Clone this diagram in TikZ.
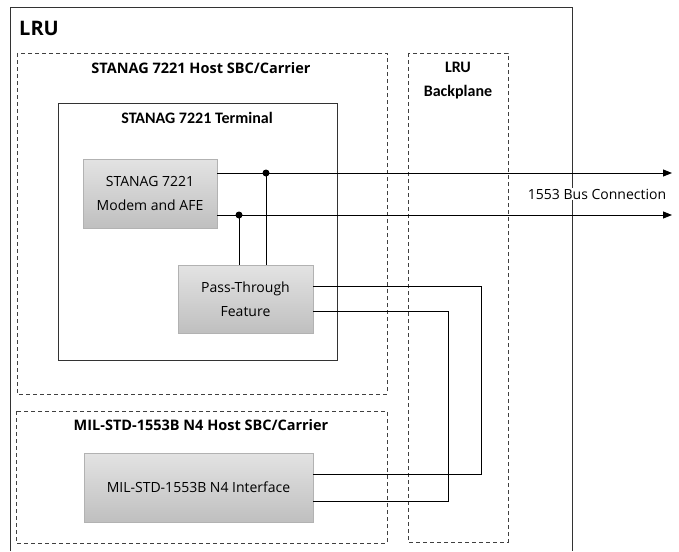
\documentclass[tikz,border=0pt]{standalone}
\usepackage{fontspec}
\setmainfont{Open Sans}
\newfontfamily\calfont{Carlito}
\usetikzlibrary{arrows.meta,calc}
\begin{document}
\begin{tikzpicture}[x=1pt,y=-1pt,
  frame/.style={draw=black!80,line width=0.9pt},
  dbox/.style={draw=black!75,line width=0.8pt,dash pattern=on 4pt off 3pt},
  gbox/.style={draw=gray!60,line width=0.8pt,top color=gray!22,bottom color=gray!50,
     inner sep=0pt,outer sep=0pt,align=center,font=\fontsize{14}{24}\selectfont},
  wire/.style={draw=black,line width=0.9pt},
  bus/.style={wire,-{Triangle[length=9pt,width=7pt]}},
  dot/.style={circle,fill=black,inner sep=0pt,minimum size=7pt},
  htitle/.style={font=\fontsize{14.5}{16}\selectfont\bfseries,inner sep=0pt},
  ctitle/.style={font=\calfont\fontsize{16}{24}\selectfont\bfseries,inner sep=0pt,align=center},
  txt/.style={font=\fontsize{14}{16}\selectfont,inner sep=1pt}
]
\useasboundingbox (0,0) rectangle (679,551);
% LRU frame (open at bottom)
\draw[frame] (10,551) -- (10,7) -- (572,7) -- (572,551);
\node[font=\fontsize{20}{22}\selectfont\bfseries,anchor=west,inner sep=0pt] (lru) at (19,28.5) {LRU};

% STANAG host carrier
\draw[dbox] (17,53) rectangle (387,394);
\node[htitle] (hosttitle) at (201,68.5) {STANAG 7221 Host SBC/Carrier};

% Terminal
\draw[frame] (58,103) rectangle (337,360);
\node[ctitle] (termtitle) at (197,118) {STANAG 7221 Terminal};

% Backplane
\draw[dbox] (408,53) rectangle (508,542);
\node[ctitle] (bptitle) at (458,81) {LRU\\Backplane};

% MIL host carrier
\draw[dbox] (16,411) rectangle (387,543);
\node[htitle] (miltitle) at (201,425.5) {MIL-STD-1553B N4 Host SBC/Carrier};

% boxes
\node[gbox,minimum width=134pt,minimum height=69pt] (modem) at (150,193.5) {STANAG 7221\\Modem and AFE};
\node[gbox,minimum width=135pt,minimum height=68pt] (pass) at (245.5,299) {Pass-Through\\Feature};
\node[gbox,minimum width=229pt,minimum height=69pt] (mil) at (198.5,487.5) {MIL-STD-1553B N4 Interface};

% coordinates
\coordinate (t1) at (672,173);
\coordinate (t2) at (672,215);
\coordinate (j1) at (266,173);
\coordinate (j2) at (239,215);
\coordinate (r1) at (481,286);
\coordinate (r2) at (448,311.5);

% bus connections
\draw[bus] (modem.east |- j1) -- (t1);
\draw[bus] (modem.east |- j2) -- (t2);
\node[dot] (d1) at (j1) {};
\node[dot] (d2) at (j2) {};
\draw[wire] (d1.center) -- (d1.center |- pass.north);
\draw[wire] (d2.center) -- (d2.center |- pass.north);

% pass-through to MIL
\draw[wire] (pass.east |- r1) -- (r1) -- (r1 |- 0,474) -- (mil.east |- 0,474);
\draw[wire] (pass.east |- r2) -- (r2) -- (r2 |- 0,501.5) -- (mil.east |- 0,501.5);

% label
\node[txt,fill=white] (buslabel) at (597,194) {1553 Bus Connection};
\end{tikzpicture}
\end{document}
